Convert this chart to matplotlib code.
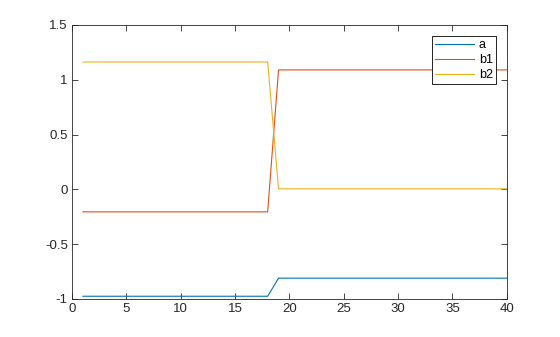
import matplotlib
matplotlib.use("Agg")
import matplotlib.pyplot as plt

x = list(range(1, 41))
a = [-0.975] * 18 + [-0.81] * 22
b1 = [-0.205] * 18 + [1.09] * 22
b2 = [1.162] * 18 + [0.005] * 22
labels = ["a", "b1", "b2"]
colors = ["#0072BD", "#D95319", "#EDB120"]

plt.rcParams["font.family"] = ["Liberation Sans", "DejaVu Sans"]
plt.rcParams["font.size"] = 9.5

fig = plt.figure(figsize=(5.6, 3.37), dpi=100)
ax = fig.add_axes([0.1286, 0.1128, 0.7764, 0.8131])

for series, lab, c in zip([a, b1, b2], labels, colors):
    ax.plot(x, series, color=c, lw=0.8, label=lab)

ax.set_xlim(0, 40)
ax.set_ylim(-1, 1.5)
ax.set_xticks(range(0, 41, 5))
ax.set_yticks([-1, -0.5, 0, 0.5, 1, 1.5])
ax.set_yticklabels(["-1", "-0.5", "0", "0.5", "1", "1.5"])
ax.tick_params(direction="in", top=True, right=True, length=4, width=0.6,
               labelsize=9.5, colors="#262626", labelcolor="#262626", pad=3)
for s in ax.spines.values():
    s.set_linewidth(0.6)
    s.set_color("#262626")

leg = ax.legend(loc="upper right", bbox_to_anchor=(0.975, 0.96), fancybox=False,
                framealpha=1, edgecolor="black", handlelength=3.1, borderpad=0.25,
                labelspacing=0.25, handletextpad=0.4, borderaxespad=0,
                fontsize=9)
leg.get_frame().set_linewidth(0.6)

fig.savefig("out.png", dpi=100)
